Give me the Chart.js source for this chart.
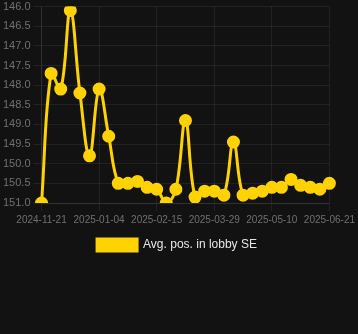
<!DOCTYPE html>
<html>
<head>
<meta charset="utf-8">
<script src="https://cdn.jsdelivr.net/npm/chart.js@4/dist/chart.umd.min.js"></script>
<style>
  html, body { margin: 0; padding: 0; background: #121212; overflow: hidden; }
  #wrap { width: 358px; height: 337px; margin-top: -3px; }
</style>
</head>
<body>
<div id="wrap"><canvas id="posChart"></canvas></div>
<script>
// Weekly dates (category axis)
const dates = [
  "2024-11-21", "2024-11-28", "2024-12-05", "2024-12-12", "2024-12-19", "2024-12-28",
  "2025-01-04", "2025-01-11", "2025-01-18", "2025-01-25", "2025-02-01", "2025-02-08",
  "2025-02-15", "2025-02-22", "2025-03-01", "2025-03-08", "2025-03-15", "2025-03-22",
  "2025-03-29", "2025-04-05", "2025-04-12", "2025-04-19", "2025-04-26", "2025-05-03",
  "2025-05-10", "2025-05-17", "2025-05-24", "2025-05-31", "2025-06-07", "2025-06-14",
  "2025-06-21"
];

// Average position in lobby (lower is better, axis reversed)
const avgPos = [
  151.0, 147.7, 148.1, 146.1, 148.2, 149.8,
  148.1, 149.3, 150.5, 150.5, 150.45, 150.6,
  150.65, 151.0, 150.65, 148.9, 150.85, 150.7,
  150.7, 150.8, 149.45, 150.8, 150.75, 150.7,
  150.6, 150.6, 150.4, 150.55, 150.6, 150.65,
  150.5
];

const yTicks = [146.0, 146.5, 147.0, 147.5, 148.0, 148.5, 149.0, 149.5, 150.0, 150.5, 151.0];

const gold = "#ffd200";
const gridColor = "rgba(255, 255, 255, 0.07)";

const ctx = document.getElementById("posChart").getContext("2d");
const posChart = new Chart(ctx, {
  type: "line",
  data: {
    labels: dates,
    datasets: [{
      label: "Avg. pos. in lobby SE",
      data: avgPos,
      borderColor: gold,
      backgroundColor: gold,
      borderWidth: 3,
      pointRadius: 5,
      pointHoverRadius: 5,
      pointBackgroundColor: gold,
      pointBorderColor: gold,
      tension: 0.4,
      fill: false,
    }],
  },
  options: {
    responsive: true,
    maintainAspectRatio: false,
    animation: false,
    layout: {
      padding: { bottom: 73, right: 4 },
    },
    plugins: {
      legend: {
        position: "bottom",
        labels: {
          color: "#e6e6e6",
          font: { size: 12, family: "Liberation Sans, Arial, sans-serif" },
          boxWidth: 40,
          boxHeight: 12,
        },
      },
      tooltip: { enabled: false },
    },
    scales: {
      x: {
        grid: { color: gridColor },
        border: { color: gridColor },
        ticks: {
          color: "#707070",
          autoSkip: false,
          maxRotation: 0,
          font: { size: 10, family: "Liberation Sans, Arial, sans-serif" },
          callback: function (value, index) {
            return index % 6 === 0 ? dates[index] : null;
          },
        },
      },
      y: {
        reverse: true,
        min: yTicks[0],
        max: yTicks[yTicks.length - 1],
        afterBuildTicks: (axis) => {
          axis.ticks = yTicks.map((v) => ({ value: v }));
        },
        grid: { color: gridColor },
        border: { color: gridColor },
        ticks: {
          color: "#707070",
          font: { size: 11, family: "Liberation Sans, Arial, sans-serif" },
          callback: (v) => Number(v).toFixed(1),
        },
      },
    },
  },
});
</script>
</body>
</html>
